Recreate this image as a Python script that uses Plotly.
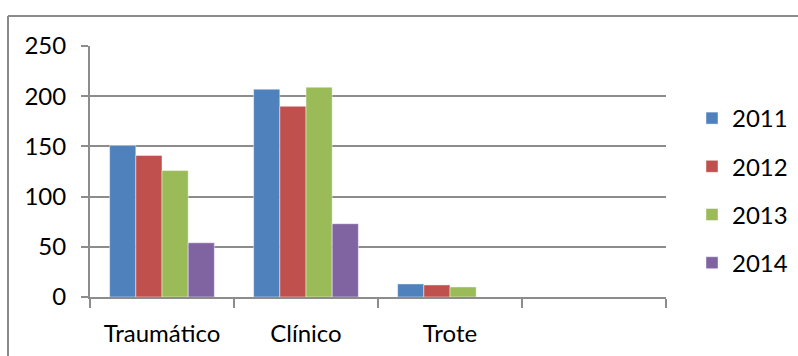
import plotly.graph_objects as go

# Categories (the last slot is an empty category on the axis)
categories = ["Traumático", "Clínico", "Trote", " "]

# Counts per year
years = ["2011", "2012", "2013", "2014"]
values_2011 = [151, 207, 13, None]
values_2012 = [141, 190, 12, None]
values_2013 = [126, 209, 10, None]
values_2014 = [54, 73, None, None]

y_ticks = [0, 50, 100, 150, 200, 250]

colors = ["#4F81BD", "#C0504D", "#9BBB59", "#8064A2"]
series = [values_2011, values_2012, values_2013, values_2014]

FONT = "Lato, 'Open Sans', sans-serif"
FS = 24
GRID = "#8c8c8c"

fig = go.Figure()
for name, vals, col in zip(years, series, colors):
    fig.add_trace(go.Bar(
        x=categories,
        y=vals,
        name=name,
        legendgroup=name,
        marker=dict(color=col, line=dict(color="rgba(255,255,255,0.45)", width=1)),
    ))

W, H = 798, 356
L, R, T, B = 90, 132, 46, 59

fig.update_layout(
    width=W,
    height=H,
    margin=dict(l=L, r=R, t=T, b=B, pad=0, autoexpand=False),
    paper_bgcolor="white",
    plot_bgcolor="white",
    barmode="group",
    bargap=1.5 / 5.5,
    bargroupgap=0,
    font=dict(family=FONT, size=FS, color="black"),
    showlegend=True,
    legend=dict(
        xref="container", yref="container",
        x=692 / W, y=1 - 96 / H,
        xanchor="left", yanchor="top",
        tracegroupgap=14,
        maxheight=320,
        font=dict(family=FONT, size=FS, color="black"),
        bgcolor="rgba(0,0,0,0)",
        borderwidth=0,
    ),
    xaxis=dict(
        type="category",
        categoryorder="array",
        categoryarray=categories,
        automargin=False,
        showline=True,
        linecolor=GRID,
        linewidth=2,
        ticks="outside",
        tickson="boundaries",
        ticklen=9,
        tickwidth=2,
        tickcolor=GRID,
        showgrid=False,
        ticklabelstandoff=14,
        tickfont=dict(family=FONT, size=FS),
        fixedrange=True,
    ),
    yaxis=dict(
        range=[0, 250],
        tickvals=y_ticks,
        automargin=False,
        showline=True,
        linecolor=GRID,
        linewidth=2,
        ticks="outside",
        ticklen=7,
        tickwidth=2,
        tickcolor=GRID,
        showgrid=True,
        gridcolor=GRID,
        gridwidth=2,
        zeroline=False,
        ticklabelstandoff=10,
        tickfont=dict(family=FONT, size=FS),
        fixedrange=True,
    ),
    shapes=[
        # chart-area frame (top and left edges)
        dict(type="line", xref="paper", yref="paper",
             x0=(8 - L) / (W - L - R), x1=(W + 5 - L) / (W - L - R),
             y0=(H - B - 16) / (H - T - B), y1=(H - B - 16) / (H - T - B),
             line=dict(color="#8a8a8a", width=2)),
        dict(type="line", xref="paper", yref="paper",
             x0=(8 - L) / (W - L - R), x1=(8 - L) / (W - L - R),
             y0=(H - B - 16) / (H - T - B), y1=(H - B - H - 5) / (H - T - B),
             line=dict(color="#8a8a8a", width=2)),
    ],
)

fig.write_html("out.html", config={"displayModeBar": False})
